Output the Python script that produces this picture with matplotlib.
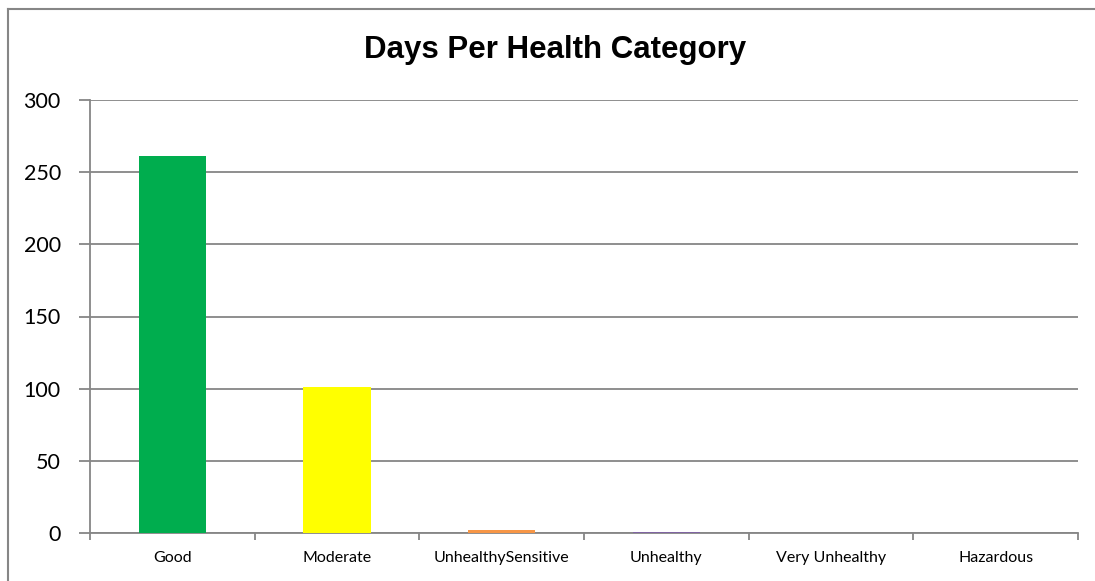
import matplotlib.pyplot as plt
from matplotlib.lines import Line2D

# Data
categories = ['Good', 'Moderate', 'UnhealthySensitive', 'Unhealthy', 'Very Unhealthy', 'Hazardous']
days = [261, 101, 2, 1, 0, 0]
colors = ['#00AD4E', '#FFFF00', '#F79646', '#8064A2', '#C0504D', '#7E0023']
yticks = [0, 50, 100, 150, 200, 250, 300]

fig = plt.figure(figsize=(10.95, 5.81), dpi=100)
ax = fig.add_axes([90 / 1095, 1 - 533 / 581, (1078 - 90) / 1095, (533 - 100) / 581])

x = list(range(len(categories)))
ax.bar(x, days, width=0.41, color=colors, zorder=3)

ax.set_xlim(-0.5, len(categories) - 0.5)
ax.set_ylim(0, 300)
ax.set_yticks(yticks)
ax.set_yticklabels([str(v) for v in yticks], fontsize=15.5, family='Lato')
ax.yaxis.grid(True, color='#868686', linewidth=1.3, zorder=0)

# category labels centered, tick marks at boundaries
ax.set_xticks(x)
ax.set_xticklabels(categories, fontsize=11.5, family='Lato')
ax.tick_params(axis='x', length=0, pad=13)
ax.set_xticks([i - 0.5 for i in range(len(categories) + 1)], minor=True)
ax.tick_params(axis='x', which='minor', length=5, color='#868686', width=1.3)
ax.tick_params(axis='y', length=8, color='#868686', width=1.3, pad=13)

for s in ['top', 'right']:
    ax.spines[s].set_visible(False)
for s in ['left', 'bottom']:
    ax.spines[s].set_color('#868686')
    ax.spines[s].set_linewidth(1.3)

fig.text(555 / 1095, 1 - 50 / 581, 'Days Per Health Category', ha='center', va='center',
         fontsize=22.5, fontweight='bold', family='Liberation Sans')

# outer chart border (left and top visible)
fig.add_artist(Line2D([8 / 1095, 8 / 1095], [0, 1 - 9 / 581], color='#868686', linewidth=1.5))
fig.add_artist(Line2D([8 / 1095, 1], [1 - 9 / 581, 1 - 9 / 581], color='#868686', linewidth=1.5))

fig.savefig('out.png', dpi=100)
